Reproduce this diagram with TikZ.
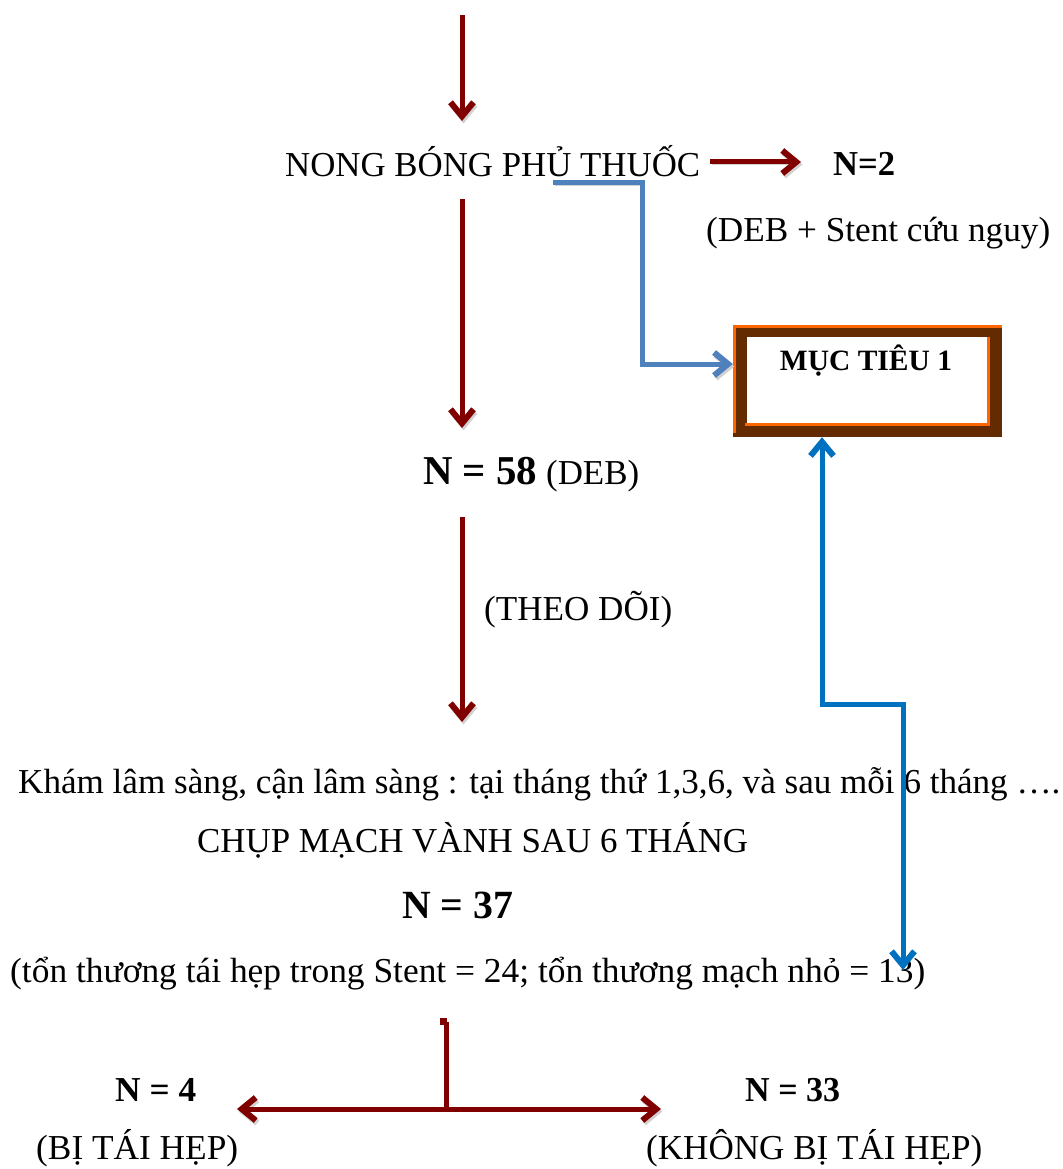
\documentclass[tikz,border=0pt]{standalone}
\usepackage{fontspec}
\setmainfont{Liberation Serif}
\usetikzlibrary{arrows.meta}
\definecolor{dred}{RGB}{128,0,0}
\definecolor{lblue}{RGB}{79,129,189}
\definecolor{dblue}{RGB}{0,112,192}
\definecolor{brn}{RGB}{100,42,0}
\definecolor{org}{RGB}{255,102,0}
\newcommand\fw[2]{\resizebox{#1pt}{\height}{#2}}
\begin{document}
\begin{tikzpicture}[x=1pt,y=-1pt,
  btip/.tip={Straight Barb[length=14pt,width=23pt,line width=6pt]},
  txt/.style={inner sep=0pt, anchor=base west, font=\fontsize{35}{40}\selectfont},
  btxt/.style={txt, font=\fontsize{35}{40}\selectfont\bfseries},
  bigb/.style={txt, font=\fontsize{40}{44}\selectfont\bfseries},
  shad/.style={preaction={draw=black!18, transform canvas={shift={(1.5pt,-2.5pt)}}}},
  redarr/.style={draw=dred, line width=5pt, -{btip}, shad},
  redline/.style={draw=dred, line width=5pt},
  lbluearr/.style={draw=lblue, line width=5pt, -{btip}, shad},
  dbluearr/.style={draw=dblue, line width=5pt, {btip}-{btip}}]
\fill[white] (0,0) rectangle (1062,1169);
\useasboundingbox (0,0) rectangle (1062,1169);

% texts
\node[txt]  (nong)  at (285,176) {\fw{415}{NONG BÓNG PHỦ THUỐC}};
\node[btxt] (n2)    at (833,176) {\fw{62}{N=2}};
\node[txt]  (deb)   at (706,241) {\fw{344}{(DEB + Stent cứu nguy)}};
\node[txt]  (n58)   at (423,484) {\fw{216}{{\fontsize{41}{44}\selectfont\bfseries N = 58} (DEB)}};
\node[txt]  (theo)  at (484,620) {\fw{188}{(THEO DÕI)}};
\node[txt]  (kham)  at (18,793)  {\fw{1042}{Khám lâm sàng, cận lâm sàng : tại tháng thứ 1,3,6, và sau mỗi 6 tháng ….}};
\node[txt]  (chup)  at (197,852) {\fw{551}{CHỤP MẠCH VÀNH SAU 6 THÁNG}};
\node[bigb] (n37)   at (402,918) {\fw{111}{N = 37}};
\node[txt]  (ton)   at (10,982)  {\fw{915}{(tổn thương tái hẹp trong Stent = 24; tổn thương mạch nhỏ = 13)}};
\node[btxt] (n4)    at (115,1101) {\fw{81}{N = 4}};
\node[btxt] (n33)   at (745,1101) {\fw{95}{N = 33}};
\node[txt]  (bi)    at (36,1159)  {\fw{202}{(BỊ TÁI HẸP)}};
\node[txt]  (khong) at (646,1159) {\fw{336}{(KHÔNG BỊ TÁI HẸP)}};

% target box
\node[inner sep=0pt, minimum width=269pt, minimum height=112pt] (box) at (867.5,381) {};
\fill[brn] (box.north west) rectangle (box.south east);
\fill[white] (747,337) rectangle (988,425);
\draw[org, line width=3pt] (734.5,433) -- (734.5,326.5) -- (1002,326.5);
\draw[org, line width=3pt] (745,424.5) -- (988.5,424.5) -- (988.5,337);
\node[inner sep=0pt, anchor=base, font=\fontsize{29.5}{34}\selectfont\bfseries] (muc) at (866,370) {MỤC TIÊU 1};

% coordinates
\coordinate (a0) at (462,15);
\coordinate (a1) at (462,121);
\coordinate (b0) at (710,162);
\coordinate (b1) at (801,162);
\coordinate (c0) at (462,199);
\coordinate (c1) at (462,428);
\coordinate (d0) at (462,517);
\coordinate (d1) at (462,722);
\coordinate (e0) at (553,183);
\coordinate (e1) at (642,183);
\coordinate (e2) at (642,364);
\coordinate (f0) at (822,437);
\coordinate (f1) at (822,704);
\coordinate (f2) at (903,704);
\coordinate (f3) at (903,970);
\coordinate (g0) at (446,1022);
\coordinate (g1) at (446,1109);
\coordinate (gl) at (237,1109);
\coordinate (gr) at (661,1109);

% connectors
\draw[redarr] (a0) -- (a1);
\draw[redarr] (b0) -- (b1);
\draw[redarr] (c0) -- (c1);
\draw[redarr] (d0) -- (d1);
\draw[lbluearr] (e0) -- (e1) -- (e2) -- (box.west |- e2);
\draw[dbluearr] (box.south -| f0) -- (f1) -- (f2) -- (f3);
\draw[redline] (g0) -- (g1);
\fill[dred] (440,1018) rectangle (447,1025);
\draw[redarr] (g1) -- (gl);
\draw[redarr] (g1) -- (gr);
\end{tikzpicture}
\end{document}
